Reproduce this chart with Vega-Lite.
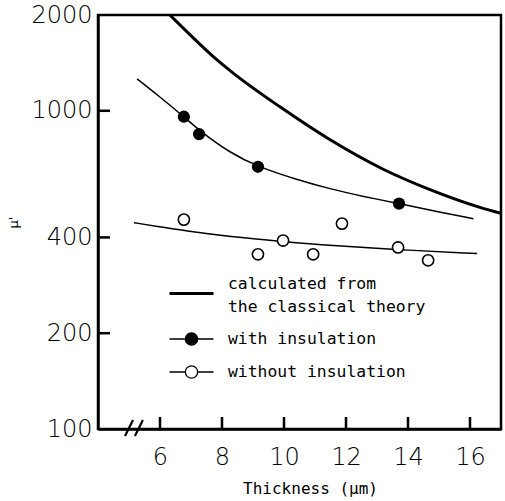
{
  "$schema": "https://vega.github.io/schema/vega-lite/v6.json",
  "width": 403,
  "height": 414,
  "autosize": {"type": "none"},
  "padding": {"left": 98, "top": 15, "right": 4, "bottom": 72},
  "background": "white",
  "config": {
    "view": {"stroke": "black", "strokeWidth": 2.5},
    "axis": {
      "domainColor": "black", "domainWidth": 2.5, "ticks": false, "tickSize": 0,
      "grid": false, "labelFont": "DejaVu Sans", "labelFontSize": 24,
      "labelFontWeight": 200, "labelColor": "black", "titleColor": "black"
    },
    "style": {"guide-label": {"lineHeight": 23}},
    "legend": {
      "orient": "none", "legendX": 70, "legendY": 245, "padding": 0,
      "symbolSize": 1936, "labelFont": "DejaVu Sans Mono", "labelFontSize": 16.4,
      "labelColor": "black", "labelOffset": 13, "labelLimit": 400, "rowPadding": 1,
      "symbolStrokeColor": "black"
    }
  },
  "datasets": {
    "classical": [
      {"thickness": 6.32, "mu": 2000}, {"thickness": 7.0, "mu": 1722}, {"thickness": 7.84, "mu": 1445},
      {"thickness": 8.35, "mu": 1316}, {"thickness": 9.87, "mu": 1029}, {"thickness": 11.45, "mu": 815},
      {"thickness": 13.2, "mu": 655}, {"thickness": 14.71, "mu": 565}, {"thickness": 16.32, "mu": 497},
      {"thickness": 17.0, "mu": 476}
    ],
    "fitWith": [
      {"thickness": 5.26, "mu": 1260}, {"thickness": 6.0, "mu": 1105}, {"thickness": 6.77, "mu": 958},
      {"thickness": 7.26, "mu": 868}, {"thickness": 8.26, "mu": 737}, {"thickness": 9.16, "mu": 667},
      {"thickness": 10.41, "mu": 608}, {"thickness": 11.48, "mu": 568}, {"thickness": 12.56, "mu": 538},
      {"thickness": 13.71, "mu": 511}, {"thickness": 14.71, "mu": 487}, {"thickness": 16.11, "mu": 458}
    ],
    "fitWithout": [
      {"thickness": 5.16, "mu": 445}, {"thickness": 6.0, "mu": 432}, {"thickness": 6.77, "mu": 420},
      {"thickness": 8.26, "mu": 402}, {"thickness": 9.97, "mu": 388}, {"thickness": 11.48, "mu": 377},
      {"thickness": 13.68, "mu": 366}, {"thickness": 16.23, "mu": 356}
    ],
    "ptsWith": [
      {"thickness": 6.77, "mu": 958}, {"thickness": 7.26, "mu": 845},
      {"thickness": 9.16, "mu": 667}, {"thickness": 13.71, "mu": 511}
    ],
    "ptsWithout": [
      {"thickness": 6.77, "mu": 455}, {"thickness": 9.16, "mu": 354}, {"thickness": 9.97, "mu": 391},
      {"thickness": 10.94, "mu": 354}, {"thickness": 11.87, "mu": 442}, {"thickness": 13.68, "mu": 372},
      {"thickness": 14.65, "mu": 339}
    ],
    "series": [
      {"series": "calculated from the classical theory"},
      {"series": "with insulation"},
      {"series": "without insulation"}
    ],
    "xTicks": [{"thickness": 6}, {"thickness": 8}, {"thickness": 10}, {"thickness": 12}, {"thickness": 14}, {"thickness": 16}],
    "yTicks": [{"mu": 200}, {"mu": 400}, {"mu": 1000}],
    "axisBreak": [{"thickness": 5.0}, {"thickness": 5.32}]
  },
  "encoding": {
    "x": {
      "field": "thickness", "type": "quantitative",
      "scale": {"domain": [4, 17], "nice": false, "zero": false},
      "axis": {
        "values": [6, 8, 10, 12, 14, 16], "labelPadding": 16,
        "title": "Thickness (μm)", "titleFont": "DejaVu Sans Mono", "titleFontSize": 16,
        "titleFontWeight": "normal", "titlePadding": 11, "titleX": 212
      }
    },
    "y": {
      "field": "mu", "type": "quantitative",
      "scale": {"type": "log", "domain": [100, 2000], "nice": false},
      "axis": {
        "values": [100, 200, 400, 1000, 2000], "format": "d",
        "labelPadding": 6, "title": "μ'", "titleFont": "DejaVu Sans", "titleFontSize": 13,
        "titleFontWeight": "normal", "titlePadding": 10
      }
    }
  },
  "layer": [
    {"data": {"name": "classical"}, "mark": {"type": "line", "color": "black", "strokeWidth": 3, "interpolate": "monotone", "clip": true}},
    {"data": {"name": "fitWith"}, "mark": {"type": "line", "color": "black", "strokeWidth": 1.5, "interpolate": "basis"}},
    {"data": {"name": "fitWithout"}, "mark": {"type": "line", "color": "black", "strokeWidth": 1.5, "interpolate": "basis"}},
    {"data": {"name": "ptsWith"}, "mark": {"type": "point", "shape": "circle", "filled": true, "color": "black", "size": 150, "opacity": 1}},
    {"data": {"name": "ptsWithout"}, "mark": {"type": "point", "shape": "circle", "fill": "white", "stroke": "black", "strokeWidth": 1.6, "size": 125, "opacity": 1}},
    {
      "data": {"name": "xTicks"},
      "mark": {"type": "point", "shape": "M-0.21,-1H0.21V1H-0.21Z", "filled": true, "color": "black", "size": 144, "opacity": 1, "yOffset": 201},
      "encoding": {"y": null}
    },
    {
      "data": {"name": "yTicks"},
      "mark": {"type": "point", "shape": "M-1,-0.21H1V0.21H-1Z", "filled": true, "color": "black", "size": 144, "opacity": 1, "xOffset": -195.5},
      "encoding": {"x": null}
    },
    {
      "data": {"name": "axisBreak"},
      "mark": {"type": "point", "shape": "M-0.5,1L0.5,-1", "filled": false, "stroke": "black", "strokeWidth": 2.2, "size": 256, "opacity": 1, "yOffset": 206},
      "encoding": {"y": null}
    },
    {
      "data": {"name": "series"},
      "transform": [{"filter": "false"}],
      "mark": {"type": "point", "filled": true, "stroke": "black", "opacity": 1},
      "encoding": {
        "shape": {
          "field": "series", "type": "nominal", "title": null,
          "scale": {
            "domain": ["calculated from the classical theory", "with insulation", "without insulation"],
            "range": ["M-1,0.45H1", "M-1,0H-0.28M0.28,0H1M0.28,0A0.28,0.28,0,1,1,-0.28,0A0.28,0.28,0,1,1,0.28,0Z", "M-1,0H-0.28M0.28,0H1M0.28,0A0.28,0.28,0,1,1,-0.28,0A0.28,0.28,0,1,1,0.28,0Z"]
          },
          "legend": {"labelExpr": "datum.value == 'calculated from the classical theory' ? ['calculated from', '\u00a0\u00a0the classical theory'] : datum.label"}
        },
        "fill": {
          "field": "series", "type": "nominal", "title": null,
          "scale": {
            "domain": ["calculated from the classical theory", "with insulation", "without insulation"],
            "range": ["black", "black", "white"]
          }
        },
        "stroke": {
          "field": "series", "type": "nominal", "title": null,
          "scale": {
            "domain": ["calculated from the classical theory", "with insulation", "without insulation"],
            "range": ["black", "black", "black"]
          }
        },
        "strokeWidth": {
          "field": "series", "type": "nominal", "title": null,
          "scale": {
            "type": "ordinal",
            "domain": ["calculated from the classical theory", "with insulation", "without insulation"],
            "range": [3, 1.3, 1.3]
          }
        }
      }
    }
  ]
}
